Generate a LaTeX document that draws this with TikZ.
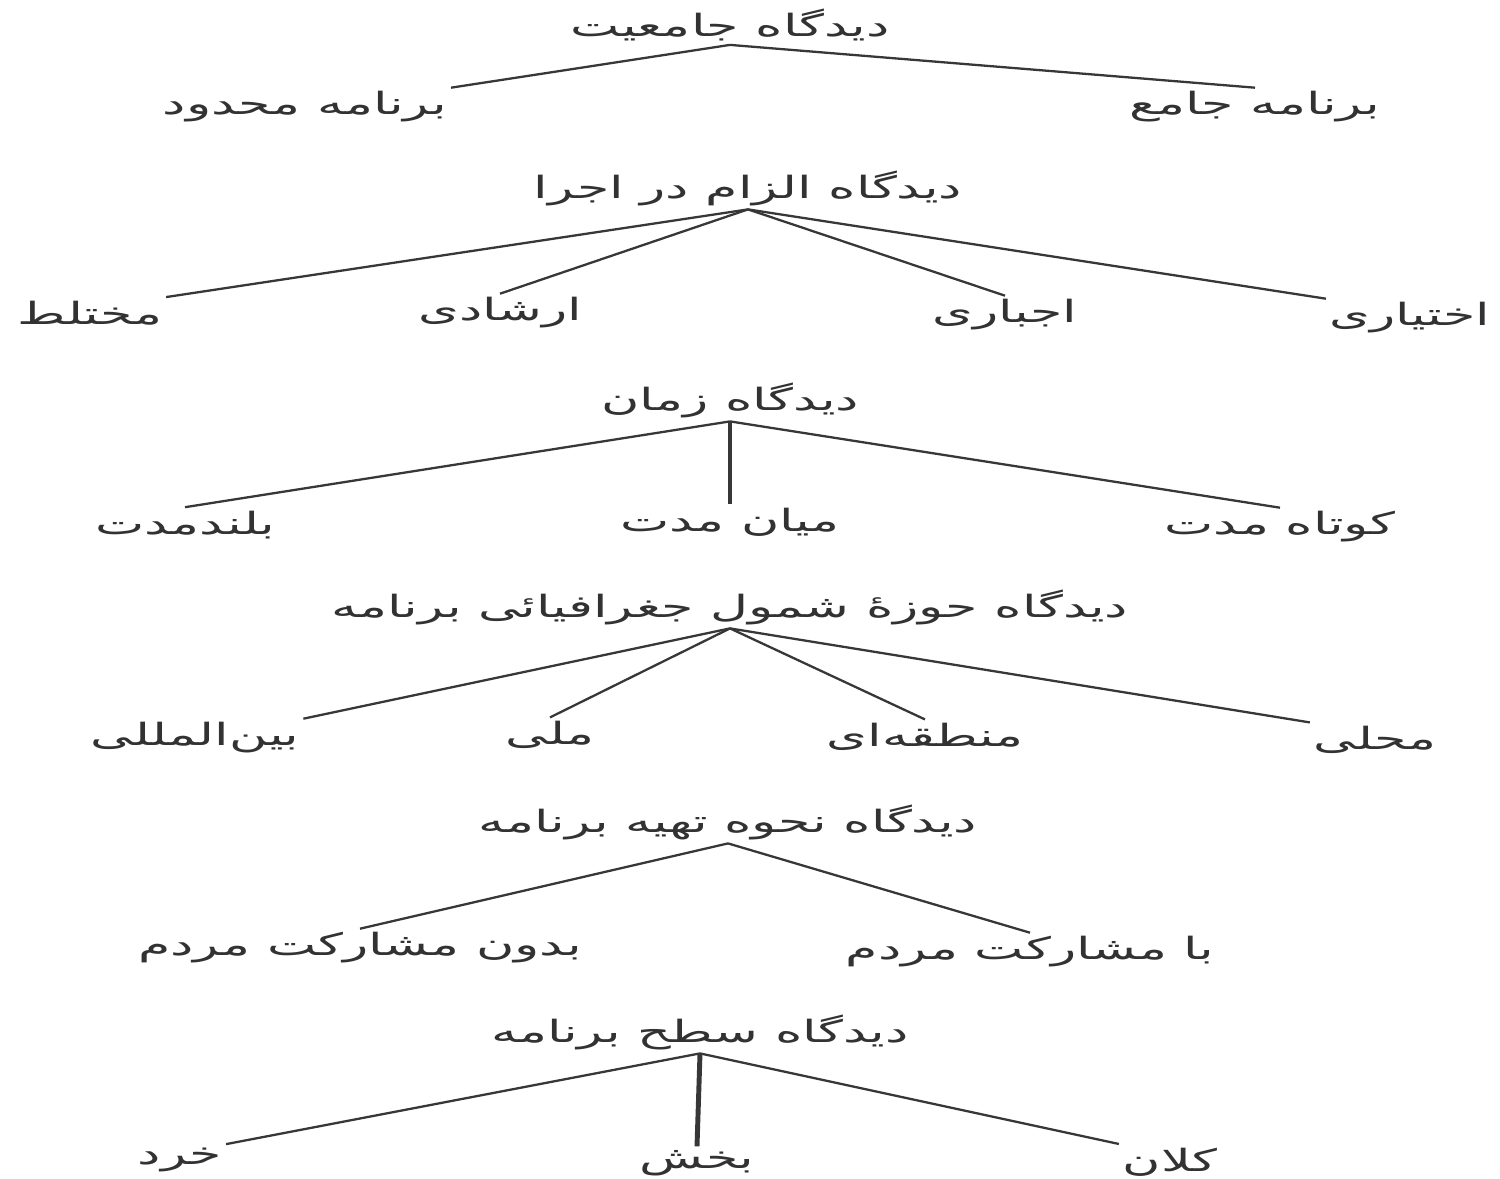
\documentclass[tikz,border=0pt]{standalone}
\usepackage{fontspec}
\newfontfamily\persianfont[Script=Arabic,FakeStretch=1.7]{DejaVu Sans}
\TeXXeTstate=1
\newcommand{\fa}[1]{\beginR #1\endR}
\definecolor{inkgray}{RGB}{50,50,50}
\definecolor{linegray}{RGB}{55,55,55}
\tikzset{
    view/.style={font=\persianfont\fontsize{17.5}{20}\selectfont,
                 text=inkgray, inner sep=2pt},
    item/.style={view},
    branch/.style={draw=linegray, line width=1.3pt},
    stem/.style={branch, line width=2.8pt},
}

\begin{document}
\begin{tikzpicture}

    \useasboundingbox (0,0) rectangle (30,-23.56);

    % comprehensiveness
    \node[view] (jameiyat) at (14.6,-0.5) {\fa{دیدگاه جامعیت}};
    \node[item] (mahdood) at (6.1,-2.14) {\fa{برنامه محدود}};
    \node[item] (jame) at (25.1,-2.14) {\fa{برنامه جامع}};
    \draw[branch] (jameiyat.south) -- (mahdood.north east);
    \draw[branch] (jameiyat.south) -- (jame.north);

    % obligation
    \node[view] (elzam) at (14.96,-3.76) {\fa{دیدگاه الزام در اجرا}};
    \node[item] (mokhtalet) at (1.8,-6.26) {\fa{مختلط}};
    \node[item] (ershadi) at (10,-6.26) {\fa{ارشادی}};
    \node[item] (ejbari) at (20.1,-6.3) {\fa{اجباری}};
    \node[item] (ekhtiyari) at (28.2,-6.36) {\fa{اختیاری}};
    \draw[branch] (elzam.south) -- (mokhtalet.north east);
    \draw[branch] (elzam.south) -- (ershadi.north);
    \draw[branch] (elzam.south) -- (ejbari.north);
    \draw[branch] (elzam.south) -- (ekhtiyari.north west);

    % time
    \node[view] (zaman) at (14.6,-8.0) {\fa{دیدگاه زمان}};
    \node[item] (boland) at (3.7,-10.5) {\fa{بلندمدت}};
    \node[item] (miyan) at (14.6,-10.44) {\fa{میان مدت}};
    \node[item] (kootah) at (25.6,-10.54) {\fa{کوتاه مدت}};
    \draw[branch] (zaman.south) -- (boland.north);
    \draw[stem] (zaman.south) -- (miyan.north);
    \draw[branch] (zaman.south) -- (kootah.north);

    % geographic coverage
    \node[view] (howze) at (14.6,-12.14) {\fa{دیدگاه حوزهٔ شمول جغرافیائی برنامه}};
    \node[item] (beyn) at (3.9,-14.76) {\fa{بین‌المللی}};
    \node[item] (melli) at (11,-14.7) {\fa{ملی}};
    \node[item] (mantaghe) at (18.5,-14.74) {\fa{منطقه‌ای}};
    \node[item] (mahalli) at (27.5,-14.8) {\fa{محلی}};
    \draw[branch] (howze.south) -- (beyn.north east);
    \draw[branch] (howze.south) -- (melli.north);
    \draw[branch] (howze.south) -- (mantaghe.north);
    \draw[branch] (howze.south) -- (mahalli.north west);

    % preparation
    \node[view] (nahve) at (14.56,-16.44) {\fa{دیدگاه نحوه تهیه برنامه}};
    \node[item] (bedoon) at (7.2,-18.96) {\fa{بدون مشارکت مردم}};
    \node[item] (ba) at (20.6,-19.04) {\fa{با مشارکت مردم}};
    \draw[branch] (nahve.south) -- (bedoon.north);
    \draw[branch] (nahve.south) -- (ba.north);

    % level
    \node[view] (sath) at (14,-20.64) {\fa{دیدگاه سطح برنامه}};
    \node[item] (khord) at (3.6,-23.2) {\fa{خرد}};
    \node[item] (bakhsh) at (13.94,-23.26) {\fa{بخش}};
    \node[item] (kalan) at (23.4,-23.24) {\fa{کلان}};
    \draw[branch] (sath.south) -- (khord.north east);
    \draw[stem] (sath.south) -- (bakhsh.north);
    \draw[branch] (sath.south) -- (kalan.north west);

\end{tikzpicture}
\end{document}
